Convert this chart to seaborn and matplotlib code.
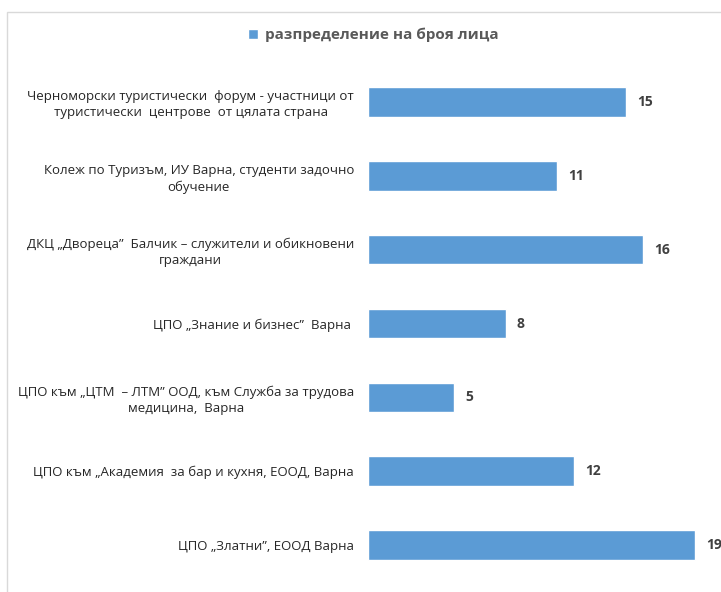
import matplotlib
matplotlib.use("Agg")
import matplotlib.pyplot as plt
import seaborn as sns
import pandas as pd
from matplotlib.patches import Rectangle
from matplotlib import font_manager

categories = [
    "Черноморски туристически  форум - участници от\nтуристически  центрове  от цялата страна",
    "Колеж по Туризъм, ИУ Варна, студенти задочно\nобучение",
    "ДКЦ „Двореца”  Балчик – служители и обикновени\nграждани",
    "ЦПО „Знание и бизнес”  Варна ",
    "ЦПО към „ЦТМ  – ЛТМ” ООД, към Служба за трудова\nмедицина,  Варна",
    "ЦПО към „Академия  за бар и кухня, ЕООД, Варна",
    "ЦПО „Златни”, ЕООД Варна",
]
values = [15, 11, 16, 8, 5, 12, 19]
series_name = "разпределение на броя лица"

avail = {f.name for f in font_manager.fontManager.ttflist}
fams = [f for f in ["Liberation Sans Narrow", "Open Sans", "DejaVu Sans"] if f in avail]

sns.set_theme(style="white")
plt.rcParams["font.family"] = fams

df = pd.DataFrame({"cat": categories, "val": values})

W, H = 721, 592
fig = plt.figure(figsize=(W / 100, H / 100), dpi=100)
fig.patch.set_facecolor("white")

# frame of the chart area
fig.add_artist(Rectangle((7 / W, -0.1), 1.2, (H - 12) / H + 0.1, transform=fig.transFigure,
                         fill=False, edgecolor="#d9d9d9", linewidth=1))

px_per_unit = 17.2
ax_left, ax_right = 368, 721
ax_top, ax_bot = 65, 582
ax = fig.add_axes([ax_left / W, 1 - ax_bot / H, (ax_right - ax_left) / W, (ax_bot - ax_top) / H])
ax.set_facecolor("none")

sns.barplot(data=df, y="cat", x="val", orient="h", color="#5b9bd5", width=0.40,
            saturation=1, ax=ax, label=series_name)
ax.set_xlim(0, (ax_right - ax_left) / px_per_unit)
ax.set_ylim(6.5, -0.5)
ax.set_xlabel("")
ax.set_ylabel("")
ax.set_xticks([])
for s in ax.spines.values():
    s.set_visible(False)
ax.tick_params(axis="y", length=0, pad=10)
for t in ax.get_yticklabels():
    t.set_fontsize(9.5)
    t.set_color("#262626")
    t.set_multialignment("center")
    t.set_linespacing(1.3)

for c in ax.containers:
    ax.bar_label(c, labels=[str(v) for v in values], padding=8, fontsize=10,
                 fontweight="bold", color="#404040")

leg = ax.legend(loc="center", bbox_to_anchor=(373 / W, 1 - 35 / H), bbox_transform=fig.transFigure,
                frameon=False, fontsize=11, handlelength=0.7, handleheight=0.7, handletextpad=0.4)
for t in leg.get_texts():
    t.set_fontweight("bold")
    t.set_color("#595959")

fig.savefig("out.png", dpi=100, facecolor="white")
